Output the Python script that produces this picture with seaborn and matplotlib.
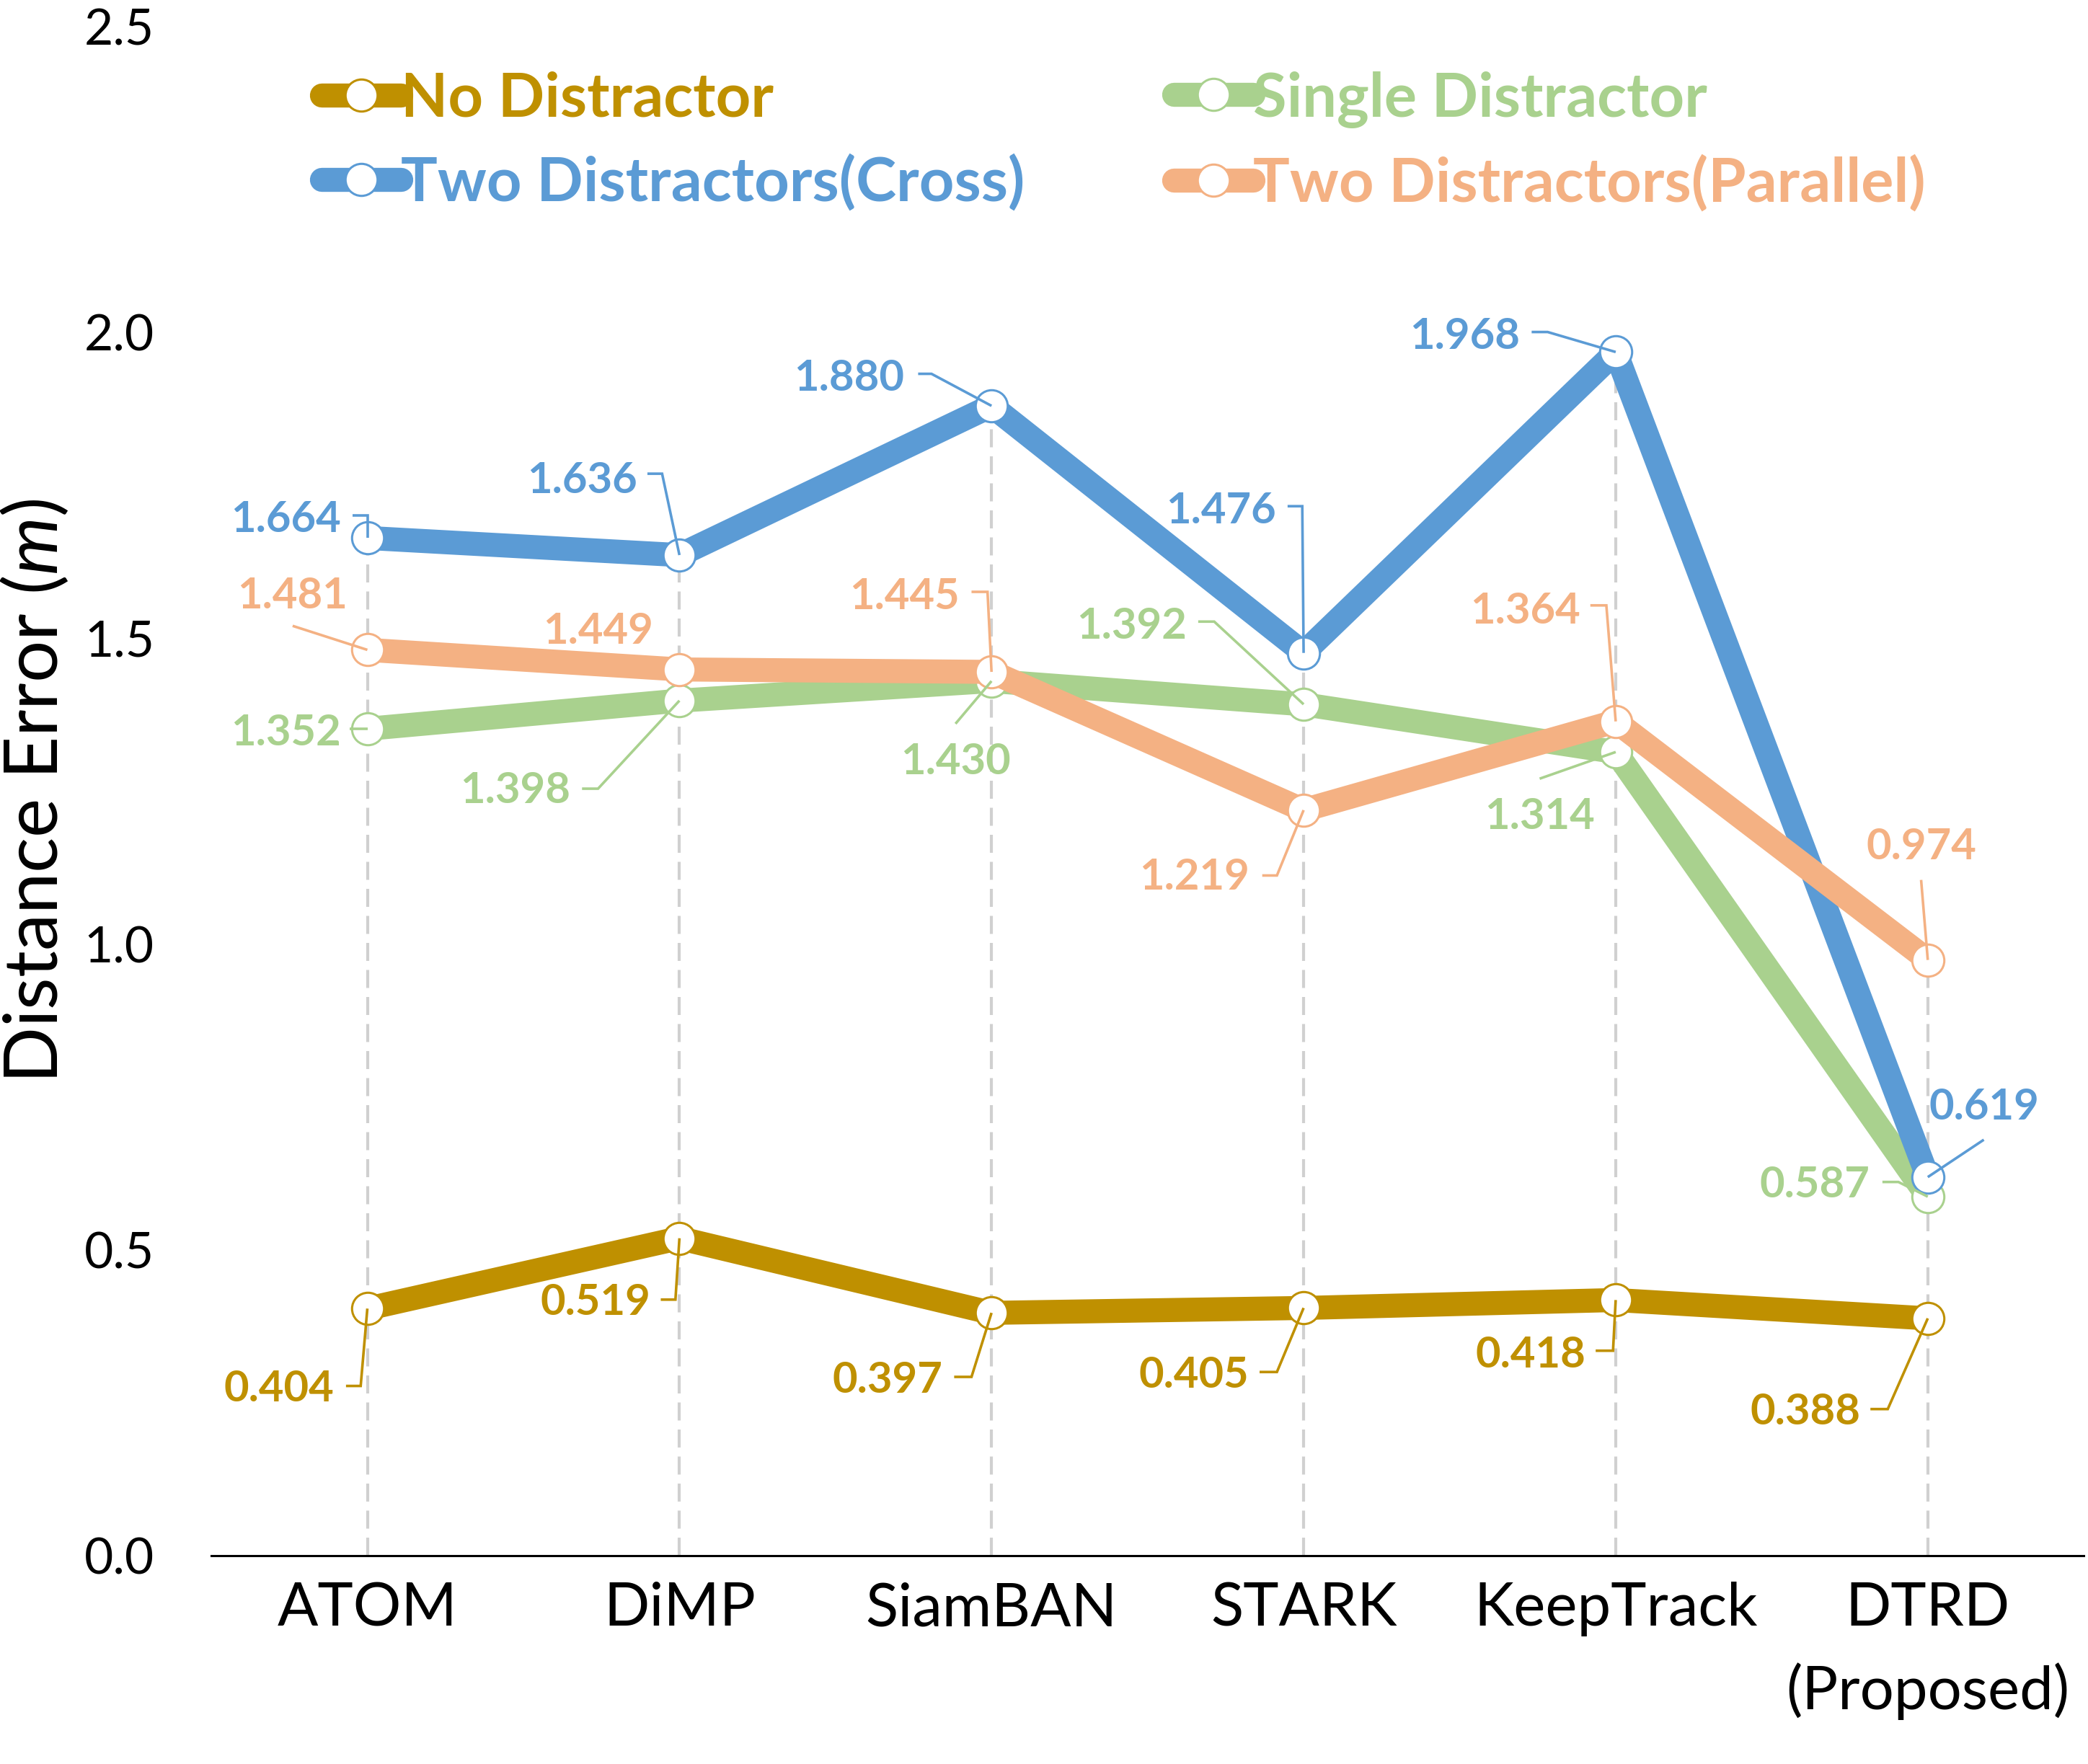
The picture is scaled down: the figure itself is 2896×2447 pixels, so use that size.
import numpy as np
import pandas as pd
import matplotlib
matplotlib.use("Agg")
import matplotlib.pyplot as plt
from matplotlib.lines import Line2D
import seaborn as sns

# ---------------- data ----------------
categories = ["ATOM", "DiMP", "SiamBAN", "STARK", "KeepTrack", "DTRD\n(Proposed)"]
series_names = ["No Distractor", "Single Distractor",
                "Two Distractors(Cross)", "Two Distractors(Parallel)"]
no_distractor = [0.404, 0.519, 0.397, 0.405, 0.418, 0.388]
single_distractor = [1.352, 1.398, 1.430, 1.392, 1.314, 0.587]
two_cross = [1.664, 1.636, 1.880, 1.476, 1.968, 0.619]
two_parallel = [1.481, 1.449, 1.445, 1.219, 1.364, 0.974]
y_ticks = [0.0, 0.5, 1.0, 1.5, 2.0, 2.5]

# ---------------- style ----------------
colors = {
    "No Distractor": "#BF9000",
    "Single Distractor": "#A9D18E",
    "Two Distractors(Cross)": "#5B9BD5",
    "Two Distractors(Parallel)": "#F4B183",
}
zorders = {"No Distractor": 2, "Single Distractor": 3,
           "Two Distractors(Cross)": 4, "Two Distractors(Parallel)": 5}

# label offsets (label centre relative to point, in reference px, y up)
label_offsets = {
    "No Distractor": [(-66, -58), (-63, -46), (-78, -48), (-82, -48), (-64, -39), (-92, -68)],
    "Single Distractor": [(-61, -1), (-123, -65), (-27, -58), (-129, 61), (-57, -46), (-85, 11)],
    "Two Distractors(Cross)": [(-61, 16), (-73, 58), (-107, 23), (-62, 109), (-113, 14), (42, 55)],
    "Two Distractors(Parallel)": [(-56, 43), (-61, 31), (-65, 59), (-82, -48), (-68, 85), (-5, 87)],
}
# leader-line vertices (relative to point, reference px, y up); line ends at point
leader_paths = {
    "No Distractor": [[(-16, -58), (-5, -58)], [(-14, -46), (-3, -46)], [(-28, -48), (-15, -48)],
                      [(-33, -48), (-20, -48)], [(-15, -38), (-2, -38)], [(-43, -68), (-30, -68)]],
    "Single Distractor": [[(-13, 0)], [(-73, -66), (-61, -66)], [(-27, -32)],
                          [(-79, 62), (-67, 62)], [(-57, -20)], [(-34, 11), (-22, 11)]],
    "Two Distractors(Cross)": [[(-11, 17), (0, 17)], [(-24, 61), (-13, 61)], [(-55, 24), (-45, 24)],
                               [(-12, 110), (-1, 110)], [(-63, 15), (-51, 15)], [(42, 28)]],
    "Two Distractors(Parallel)": [[(-56, 18)], None, [(-15, 60), (-3, 60)],
                                  [(-31, -49), (-20, -49)], [(-19, 87), (-7, 87)], [(-5, 60)]],
}

S = 2896 / 1565.0  # reference-preview px -> output px

sns.set_theme(style="white")
plt.rcParams["font.family"] = ["Lato", "DejaVu Sans"]
plt.rcParams["mathtext.fontset"] = "custom"
plt.rcParams["mathtext.rm"] = "Lato"
plt.rcParams["mathtext.it"] = "Lato:italic"

values = {
    "No Distractor": no_distractor,
    "Single Distractor": single_distractor,
    "Two Distractors(Cross)": two_cross,
    "Two Distractors(Parallel)": two_parallel,
}
df = pd.DataFrame({
    "pos": np.tile(np.arange(len(categories)), len(series_names)),
    "series": np.repeat(series_names, len(categories)),
    "value": np.concatenate([values[n] for n in series_names]),
})

fig = plt.figure(figsize=(28.96, 24.47), dpi=100)
ax = fig.add_axes([0.1012, 0.1181, 0.8968, 0.8668])
ax.set_xlim(-0.5, len(categories) - 0.5)
ax.set_ylim(0, 2.5)

# drop lines
tops = df.groupby("pos")["value"].max()
for p, top in tops.items():
    ax.plot([p, p], [0, top], color="#D0D0D0", lw=3, dashes=(6, 3), zorder=1)

LW = 24
MS = 32
MEW = 2.2
for name in series_names:
    sub = df[df["series"] == name]
    c = colors[name]
    sns.lineplot(data=sub, x="pos", y="value", ax=ax, color=c, lw=LW, marker="o",
                 markersize=MS, markerfacecolor="white", markeredgecolor=c,
                 markeredgewidth=MEW, sort=False, legend=False, zorder=zorders[name],
                 solid_joinstyle="round", solid_capstyle="round")
    ln = ax.lines[-1]
    ln.set_markerfacecolor("white")
    ln.set_markeredgecolor(c)
    ln.set_markeredgewidth(MEW)

# axes styling
for side in ["left", "right", "top"]:
    ax.spines[side].set_visible(False)
ax.spines["bottom"].set_color("black")
ax.spines["bottom"].set_linewidth(2.2)
ax.set_xticks(range(len(categories)))
ax.set_xticklabels(categories, fontsize=60, linespacing=1.55)
ax.set_yticks(y_ticks)
ax.set_yticklabels([f"{t:.1f}" for t in y_ticks], fontsize=50)
ax.tick_params(axis="x", length=0, pad=26, colors="black")
ax.tick_params(axis="y", length=0, pad=57, colors="black")
ax.set_xlabel("")
ax.set_ylabel("Distance Error ($\\mathit{m}$)", fontsize=74, color="black", va="center")
ax.yaxis.set_label_coords(-0.094, 0.5)
ax.grid(False)

# data labels + leader lines
fig.canvas.draw()
inv = ax.transData.inverted()
for name in series_names:
    c = colors[name]
    for i, v in enumerate(values[name]):
        dx, dy = label_offsets[name][i]
        ax.annotate(f"{v:.3f}", xy=(i, v), xytext=(dx * S, (dy - 11.7) * S),
                    textcoords="offset pixels", ha="center", va="baseline",
                    fontsize=43, fontweight="bold", color=c, zorder=8)
        path = leader_paths[name][i]
        if path:
            px, py = ax.transData.transform((i, v))
            pts = [(px + ox * S, py + oy * S) for ox, oy in path] + [(px, py)]
            dpts = inv.transform(pts)
            ax.plot(dpts[:, 0], dpts[:, 1], color=c, lw=2.6, zorder=7,
                    solid_capstyle="butt", solid_joinstyle="miter")

# legends (two columns)
def handle(name):
    c = colors[name]
    return Line2D([0], [0], color=c, lw=LW, marker="o", markersize=MS,
                  markerfacecolor="white", markeredgecolor=c, markeredgewidth=MEW,
                  solid_capstyle="round")

leg_kw = dict(frameon=False, handlelength=1.3, handletextpad=0.0,
              labelspacing=0.44, borderpad=0, borderaxespad=0, labelcolor="linecolor",
              prop={"weight": "bold", "size": 61})
leg1 = fig.legend([handle(series_names[0]), handle(series_names[2])],
                  [series_names[0], series_names[2]], loc="center left",
                  bbox_to_anchor=(0.154, 0.9200), **leg_kw)
leg2 = fig.legend([handle(series_names[1]), handle(series_names[3])],
                  [series_names[1], series_names[3]], loc="center left",
                  bbox_to_anchor=(0.562, 0.9200), **leg_kw)

fig.savefig("out.png", dpi=100, facecolor="white")
